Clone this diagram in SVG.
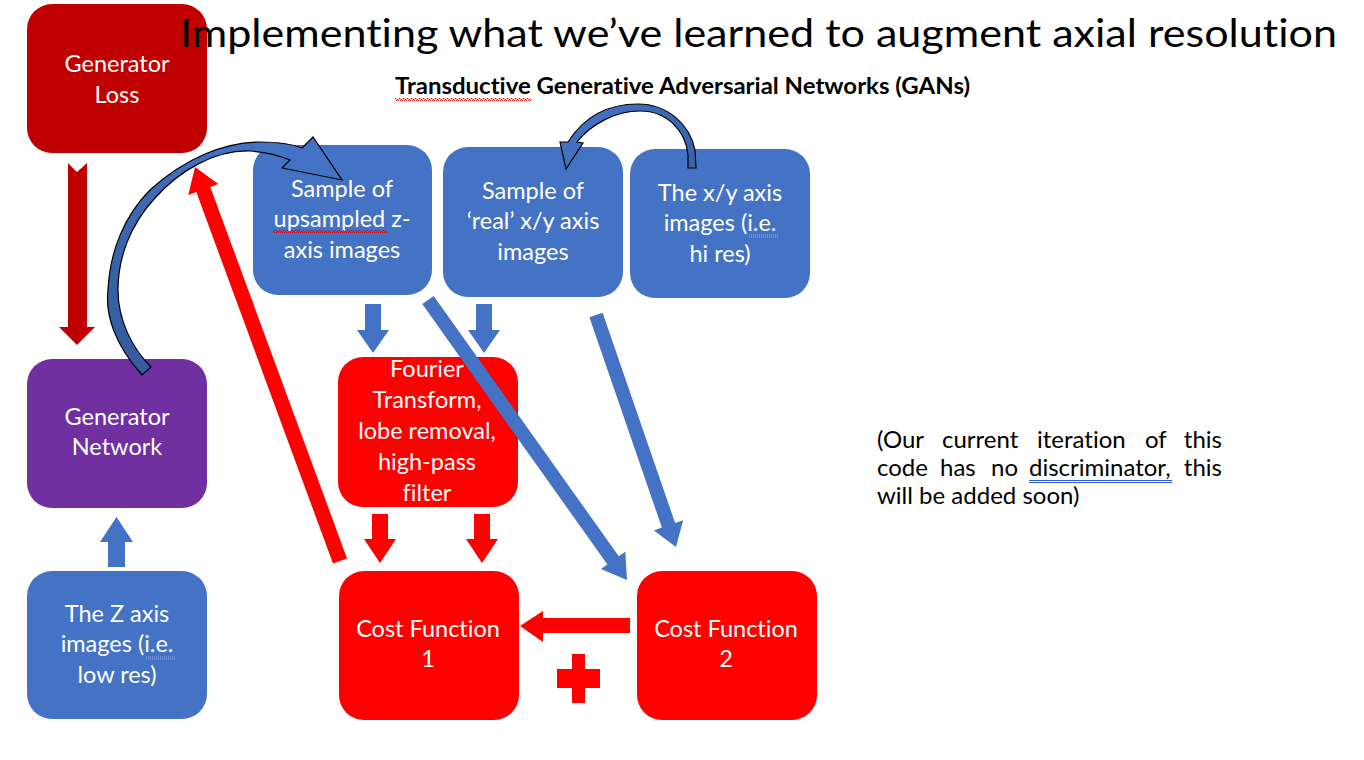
<svg xmlns="http://www.w3.org/2000/svg" width="1364" height="760" viewBox="0 0 1364 760">
  <defs>
    <style>
      text { font-variant-ligatures: none; }
      .box-dred { fill: #C00000; }
      .box-purple { fill: #7030A0; }
      .box-blue { fill: #4472C4; }
      .box-red { fill: #FF0000; }
      .lbl { font-family: Lato, "Open Sans", sans-serif; font-size: 23.5px; fill: #FFFFFF; text-anchor: middle; }
      .arrow-blue { fill: #4472C4; }
      .arrow-red { fill: #FF0000; }
      .arrow-dred { fill: #C00000; }
      .curved { stroke: #000000; stroke-width: 1.2; stroke-linejoin: miter; }
      .note { font-family: Lato, "Open Sans", sans-serif; font-size: 24px; fill: #000000; }
      .spell-red { fill: url(#wavy-red); }
      .spell-blue { stroke: #2F5BD8; stroke-width: 1; fill: none; }
      .spell-dots { stroke: #8FA9E8; stroke-width: 1; stroke-dasharray: 1 1; fill: none; }
    </style>
    <pattern id="wavy-red" x="0" y="0" width="4" height="3" patternUnits="userSpaceOnUse">
      <path d="M0,2.5 L1,0.5 L2,0.5 L3,2.5 L4,2.5" stroke="#E00000" stroke-width="0.9" fill="none"/>
    </pattern>
    <linearGradient id="curve-left" x1="0" y1="1" x2="0.6" y2="0">
      <stop offset="0" stop-color="#335A9B"/>
      <stop offset="1" stop-color="#4472C4"/>
    </linearGradient>
    <linearGradient id="curve-right" x1="1" y1="0.6" x2="0" y2="0.4">
      <stop offset="0" stop-color="#3A63AD"/>
      <stop offset="1" stop-color="#4472C4"/>
    </linearGradient>
  </defs>

  <rect width="1364" height="760" fill="#FFFFFF"/>

  <!-- nodes -->
  <g id="generator-loss">
    <rect class="box-dred" x="27" y="4" width="180" height="149" rx="25"/>
    <text class="lbl" x="117" y="72">Generator</text>
    <text class="lbl" x="117" y="103">Loss</text>
  </g>

  <g id="generator-network">
    <rect class="box-purple" x="27" y="359" width="180" height="149" rx="25"/>
    <text class="lbl" x="117" y="425">Generator</text>
    <text class="lbl" x="117" y="455">Network</text>
  </g>

  <g id="z-axis-images">
    <rect class="box-blue" x="27" y="571" width="180" height="148" rx="25"/>
    <text class="lbl" x="117" y="622">The Z axis</text>
    <text class="lbl" x="117" y="652">images (i.e.</text>
    <text class="lbl" x="117" y="683">low res)</text>
    <line class="spell-dots" x1="146" y1="657" x2="176" y2="657"/>
    <line class="spell-dots" x1="146" y1="659" x2="176" y2="659"/>
  </g>

  <g id="upsampled-sample">
    <rect class="box-blue" x="253" y="145" width="179" height="150" rx="25"/>
    <text class="lbl" x="342" y="197">Sample of</text>
    <text class="lbl" x="342" y="227">upsampled z-</text>
    <text class="lbl" x="342" y="258">axis images</text>
    <rect class="spell-red" x="273" y="230" width="114" height="3"/>
  </g>

  <g id="real-sample">
    <rect class="box-blue" x="443" y="147" width="180" height="150" rx="25"/>
    <text class="lbl" x="533" y="199">Sample of</text>
    <text class="lbl" x="533" y="229">‘real’ x/y axis</text>
    <text class="lbl" x="533" y="260">images</text>
  </g>

  <g id="xy-axis-images">
    <rect class="box-blue" x="630" y="149" width="180" height="149" rx="25"/>
    <text class="lbl" x="720" y="201">The x/y axis</text>
    <text class="lbl" x="720" y="231">images (i.e.</text>
    <text class="lbl" x="720" y="262">hi res)</text>
    <line class="spell-dots" x1="749" y1="235" x2="779" y2="235"/>
    <line class="spell-dots" x1="749" y1="237" x2="779" y2="237"/>
  </g>

  <g id="fourier-filter">
    <rect class="box-red" x="338" y="357" width="180" height="150" rx="25"/>
    <text class="lbl" x="427" y="377">Fourier</text>
    <text class="lbl" x="427" y="408">Transform,</text>
    <text class="lbl" x="427" y="439">lobe removal,</text>
    <text class="lbl" x="427" y="470">high-pass</text>
    <text class="lbl" x="427" y="501">filter</text>
  </g>

  <g id="cost-function-1">
    <rect class="box-red" x="339" y="571" width="180" height="149" rx="25"/>
    <text class="lbl" x="428" y="637">Cost Function</text>
    <text class="lbl" x="428" y="667">1</text>
  </g>

  <g id="cost-function-2">
    <rect class="box-red" x="637" y="571" width="180" height="149" rx="25"/>
    <text class="lbl" x="726" y="637">Cost Function</text>
    <text class="lbl" x="726" y="667">2</text>
  </g>

  <!-- connectors -->
  <g id="connectors">
    <!-- generator loss down to generator network -->
    <polygon class="arrow-dred" points="68,163 77,172 87,163 87,327 95,327 77,345 59,327 68,327"/>
    <!-- z axis images up to generator network -->
    <polygon class="arrow-blue" points="108,567 108,542 100,542 116.5,517 133,542 125,542 125,567"/>
    <!-- generator network curving over to upsampled sample -->
    <path class="curved" fill="url(#curve-left)" d="M142,375 C115,345 105,315 108,290 C110,250 125,215 150,190 C185,158 225,142 260,142 C278,142 292,144 302,148 L313,137 L342,180 L282,168 L290,160 C278,155 265,152 250,151 C215,150 180,170 155,198 C130,225 118,258 118,290 C118,320 132,348 151,367 Z"/>
    <!-- x/y axis images curving over to real sample -->
    <path class="curved" fill="url(#curve-right)" d="M566,169 L560,142 L568,142 C585,115 610,104 638,104 C668,104 690,125 695,150 L696,168 L688,168 L688,155 C686,132 668,111 640,111 C615,111 590,125 577,142 L583,143 Z"/>
    <!-- cost function 1 back up to generator loss -->
    <polygon class="arrow-red" points="333,563.6 347,558.4 210.3,186.9 218.3,184 195,167 188.3,195 196.3,192.1"/>
    <!-- samples down into fourier filter -->
    <polygon class="arrow-blue" points="365,304 381,304 381,330 389,330 373,353 357,330 365,330"/>
    <polygon class="arrow-blue" points="476,304 492,304 492,330 500,330 484,353 468,330 476,330"/>
    <!-- fourier filter down into cost function 1 -->
    <polygon class="arrow-red" points="372,514 388,514 388,539 396,539 380,563 364,539 372,539"/>
    <polygon class="arrow-red" points="474,514 490,514 490,539 498,539 482,563 466,539 474,539"/>
    <!-- upsampled sample to cost function 2 -->
    <polygon class="arrow-blue" points="422.3,304.1 433.7,295.9 618.8,556.3 625.3,551.7 627,580 600.9,569.1 607.4,564.5"/>
    <!-- x/y axis images to cost function 2 -->
    <polygon class="arrow-blue" points="589.4,317.3 602.6,312.7 675.1,523 683.1,520.2 676,547 653.9,530.4 661.9,527.6"/>
    <!-- cost function 2 into cost function 1 -->
    <polygon class="arrow-red" points="630,618 630,633 543,633 543,642 520,626 543,611 543,618"/>
    <!-- plus sign -->
    <path class="arrow-red" d="M572,654 h13 v15 h15 v19 h-15 v15 h-13 v-15 h-15 v-19 h15 z"/>
  </g>

  <!-- headings -->
  <g id="title">
    <text x="180" y="47" font-family="Lato, 'Open Sans', sans-serif" font-size="38" fill="#000000" textLength="1157" lengthAdjust="spacingAndGlyphs">Implementing what we’ve learned to augment axial resolution</text>
  </g>
  <g id="subtitle">
    <text x="395" y="94" font-family="Lato, 'Open Sans', sans-serif" font-size="23" font-weight="bold" fill="#000000" textLength="575" lengthAdjust="spacingAndGlyphs">Transductive Generative Adversarial Networks (GANs)</text>
    <rect class="spell-red" x="395" y="98" width="136" height="3"/>
  </g>

  <!-- side note, justified -->
  <g id="note">
    <text class="note" x="877" y="448">(Our</text>
    <text class="note" x="942" y="448">current</text>
    <text class="note" x="1037" y="448">iteration</text>
    <text class="note" x="1145" y="448">of</text>
    <text class="note" x="1222" y="448" text-anchor="end">this</text>
    <text class="note" x="877" y="476">code</text>
    <text class="note" x="940" y="476">has</text>
    <text class="note" x="991" y="476">no</text>
    <text class="note" x="1029" y="476">discriminator,</text>
    <text class="note" x="1222" y="476" text-anchor="end">this</text>
    <text class="note" x="877" y="504">will be added soon)</text>
    <line class="spell-blue" x1="1029" y1="480.5" x2="1172" y2="480.5"/>
    <line class="spell-blue" x1="1029" y1="482.5" x2="1172" y2="482.5"/>
  </g>
</svg>
